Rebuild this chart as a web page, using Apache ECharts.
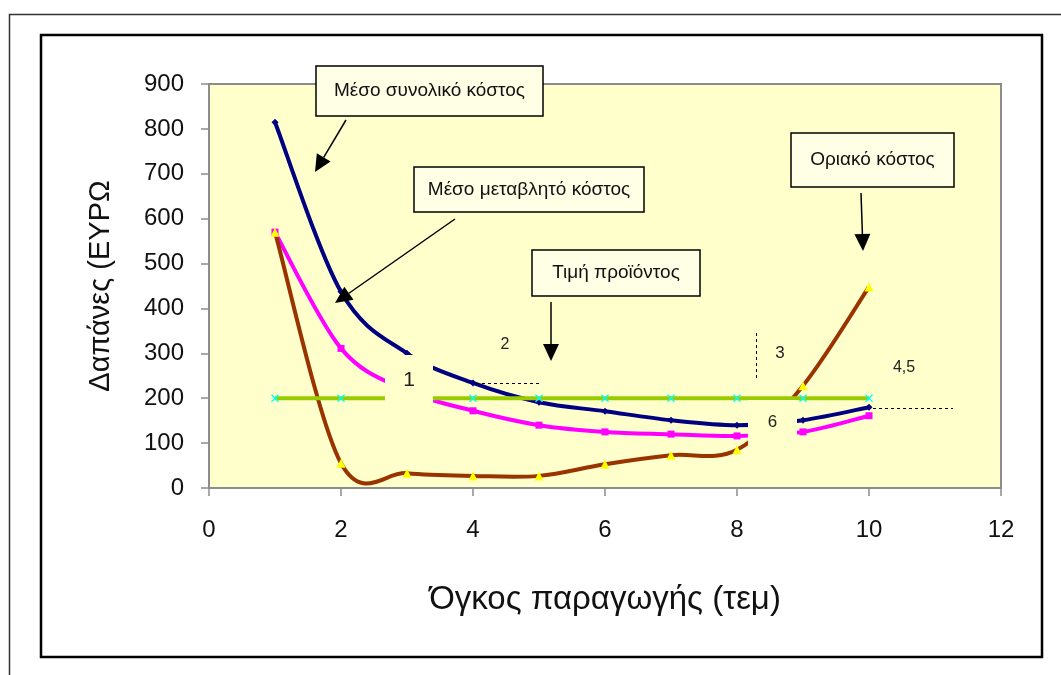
<!DOCTYPE html>
<html>
<head>
<meta charset="utf-8">
<script src="https://cdn.jsdelivr.net/npm/echarts@6/dist/echarts.min.js"></script>
<style>
  html, body { margin: 0; padding: 0; background: #ffffff; }
  #chart { width: 1061px; height: 675px; }
</style>
</head>
<body>
<div id="chart"></div>
<script>
// Production volume (units)
const quantities = [1, 2, 3, 4, 5, 6, 7, 8, 9, 10];
// Average total cost
const avgTotalCost = [815, 437, 300, 234, 191, 171, 151, 140, 151, 180];
// Average variable cost
const avgVariableCost = [570, 311, 217, 172, 140, 125, 120, 116, 125, 161];
// Marginal cost
const marginalCost = [570, 55, 33, 27, 27, 53, 73, 85, 228, 448];
// Product price
const unitPrice = [200, 200, 200, 200, 200, 200, 200, 200, 200, 200];

const xTicks = { min: 0, max: 12, interval: 2 };
const yTicks = { min: 0, max: 900, interval: 100 };

const FONT = "'Liberation Sans', Arial, sans-serif";
const pairs = arr => quantities.map((q, i) => [q, arr[i]]);

const xMark = 'path://M0,1.2L1.2,0L5,3.8L8.8,0L10,1.2L6.2,5L10,8.8L8.8,10L5,6.2L1.2,10L0,8.8L3.8,5Z';

// Smoothed curve through the points: cubic Bezier segments whose control
// points sit 1/6 of the neighbour-to-neighbour vector away from each point.
function smoothCurve(name, values, color) {
  return {
    name: name,
    type: 'custom',
    data: pairs(values),
    encode: { x: 0, y: 1 },
    clip: true,
    silent: true,
    animation: false,
    renderItem: function (params, api) {
      if (params.dataIndex !== 0) return null;
      const n = values.length;
      const pts = values.map((v, i) => api.coord([quantities[i], v]));
      const P = k => pts[Math.max(0, Math.min(n - 1, k))];
      let d = 'M' + pts[0][0] + ' ' + pts[0][1];
      for (let i = 0; i < n - 1; i++) {
        const p0 = P(i - 1), p1 = P(i), p2 = P(i + 1), p3 = P(i + 2);
        const c1x = p1[0] + (p2[0] - p0[0]) / 6, c1y = p1[1] + (p2[1] - p0[1]) / 6;
        const c2x = p2[0] - (p3[0] - p1[0]) / 6, c2y = p2[1] - (p3[1] - p1[1]) / 6;
        d += ' C' + c1x + ' ' + c1y + ' ' + c2x + ' ' + c2y + ' ' + p2[0] + ' ' + p2[1];
      }
      return {
        type: 'path',
        shape: { pathData: d },
        style: { stroke: color, lineWidth: 4, fill: 'none', lineJoin: 'round', lineCap: 'butt' }
      };
    }
  };
}

function markers(name, values, symbol, color, size) {
  return {
    name: name,
    type: 'scatter',
    data: pairs(values),
    symbol: symbol,
    symbolSize: size,
    itemStyle: { color: color, opacity: 1 },
    emphasis: { disabled: true },
    silent: true,
    animation: false
  };
}

function textBox(x, y, w, h, label, size) {
  return {
    type: 'group', z: 100,
    children: [
      { type: 'rect', shape: { x: x, y: y, width: w, height: h },
        style: { fill: '#FFFFE6', stroke: '#000', lineWidth: 1.5 }, z: 100 },
      { type: 'text', x: x + w / 2, y: y + h / 2, z: 101,
        style: { text: label, font: size + 'px ' + FONT, fill: '#111',
                 textAlign: 'center', textVerticalAlign: 'middle' } }
    ]
  };
}

function arrow(x1, y1, x2, y2) {
  const dx = x2 - x1, dy = y2 - y1;
  const len = Math.sqrt(dx * dx + dy * dy);
  const ux = dx / len, uy = dy / len;
  const headL = 17, headW = 8;
  const bx = x2 - ux * headL, by = y2 - uy * headL;
  return {
    type: 'group', z: 100,
    children: [
      { type: 'line', z: 100, shape: { x1: x1, y1: y1, x2: bx, y2: by },
        style: { stroke: '#000', lineWidth: 1.5 } },
      { type: 'polygon', z: 100,
        shape: { points: [[x2, y2], [bx - uy * headW, by + ux * headW], [bx + uy * headW, by - ux * headW]] },
        style: { fill: '#000' } }
    ]
  };
}

function dotted(x1, y1, x2, y2) {
  return { type: 'line', z: 100, shape: { x1: x1, y1: y1, x2: x2, y2: y2 },
           style: { stroke: '#000', lineWidth: 1, lineDash: [3, 3] } };
}

function numLabel(x, y, w, h, label, size, cover) {
  const children = [];
  if (cover) {
    children.push({ type: 'rect', z: 100, shape: { x: x, y: y, width: w, height: h },
                    style: { fill: '#FFFFCC' } });
  }
  children.push({ type: 'text', z: 101, x: x + w / 2, y: y + h / 2,
                  style: { text: label, font: size + 'px ' + FONT, fill: '#222',
                           textAlign: 'center', textVerticalAlign: 'middle' } });
  return { type: 'group', z: 100, children: children };
}

const chart = echarts.init(document.getElementById('chart'), null, { renderer: 'canvas' });

chart.setOption({
  animation: false,
  backgroundColor: '#ffffff',
  grid: {
    left: 209, top: 84, right: 60, bottom: 187,
    show: true, backgroundColor: '#FFFFCC', borderColor: '#8c8c8c', borderWidth: 2
  },
  xAxis: {
    type: 'value',
    min: xTicks.min, max: xTicks.max, interval: xTicks.interval,
    name: 'Όγκος παραγωγής (τεμ)',
    nameLocation: 'middle', nameGap: 95,
    nameTextStyle: { fontFamily: FONT, fontSize: 33, color: '#111' },
    axisLine: { show: true, lineStyle: { color: '#8c8c8c', width: 2 } },
    axisTick: { show: true, length: 8, lineStyle: { color: '#8c8c8c', width: 1.5 } },
    axisLabel: { fontFamily: FONT, fontSize: 24, color: '#111', margin: 30 },
    splitLine: { show: false }
  },
  yAxis: {
    type: 'value',
    min: yTicks.min, max: yTicks.max, interval: yTicks.interval,
    name: 'Δαπάνες (ΕΥΡΩ',
    nameLocation: 'middle', nameGap: 94, nameRotate: 90,
    nameTextStyle: { fontFamily: FONT, fontSize: 29, color: '#111' },
    axisLine: { show: true, lineStyle: { color: '#8c8c8c', width: 2 } },
    axisTick: { show: true, length: 8, lineStyle: { color: '#8c8c8c', width: 1.5 } },
    axisLabel: { fontFamily: FONT, fontSize: 24, color: '#111', margin: 25 },
    splitLine: { show: false }
  },
  series: [
    smoothCurve('Μέσο συνολικό κόστος', avgTotalCost, '#000080'),
    markers('Μέσο συνολικό κόστος', avgTotalCost, 'diamond', '#000080', 7),
    smoothCurve('Μέσο μεταβλητό κόστος', avgVariableCost, '#FF00FF'),
    markers('Μέσο μεταβλητό κόστος', avgVariableCost, 'rect', '#FF00FF', 7),
    smoothCurve('Οριακό κόστος', marginalCost, '#993300'),
    markers('Οριακό κόστος', marginalCost, 'triangle', '#FFFF00', 9),
    {
      name: 'Τιμή προϊόντος',
      type: 'line',
      data: pairs(unitPrice),
      symbol: xMark,
      symbolSize: 8,
      showAllSymbol: true,
      lineStyle: { color: '#99CC00', width: 4 },
      itemStyle: { color: '#00FFFF' },
      emphasis: { disabled: true },
      silent: true,
      animation: false
    }
  ],
  graphic: [
    // frames around the drawing
    { type: 'rect', z: 0, silent: true, shape: { x: 9.5, y: 14.5, width: 1200, height: 800 },
      style: { fill: 'none', stroke: '#333', lineWidth: 1.5 } },
    { type: 'rect', z: 0, silent: true, shape: { x: 41, y: 35, width: 1001, height: 622 },
      style: { fill: 'none', stroke: '#000', lineWidth: 2.5 } },

    // callouts
    textBox(316, 66, 227, 50, 'Μέσο συνολικό κόστος', 19),
    arrow(346, 120, 315, 172),
    textBox(414, 167, 230, 45, 'Μέσο μεταβλητό κόστος', 19),
    arrow(455, 219, 335, 303),
    textBox(532, 250, 168, 46, 'Τιμή προϊόντος', 19),
    arrow(551, 302, 551, 361),
    textBox(791, 133, 163, 54, 'Οριακό κόστος', 19),
    arrow(861, 193, 863, 251),

    // guide lines and region numbers
    dotted(476, 383.5, 541, 383.5),
    dotted(756.5, 333, 756.5, 380),
    dotted(873, 408.5, 953, 408.5),
    numLabel(385, 355, 48, 50, '1', 21, true),
    numLabel(490, 332, 30, 26, '2', 16, false),
    numLabel(765, 340, 30, 26, '3', 17, false),
    numLabel(885, 355, 38, 26, '4,5', 16, false),
    numLabel(748, 400, 49, 45, '6', 17, true)
  ]
});
</script>
</body>
</html>
